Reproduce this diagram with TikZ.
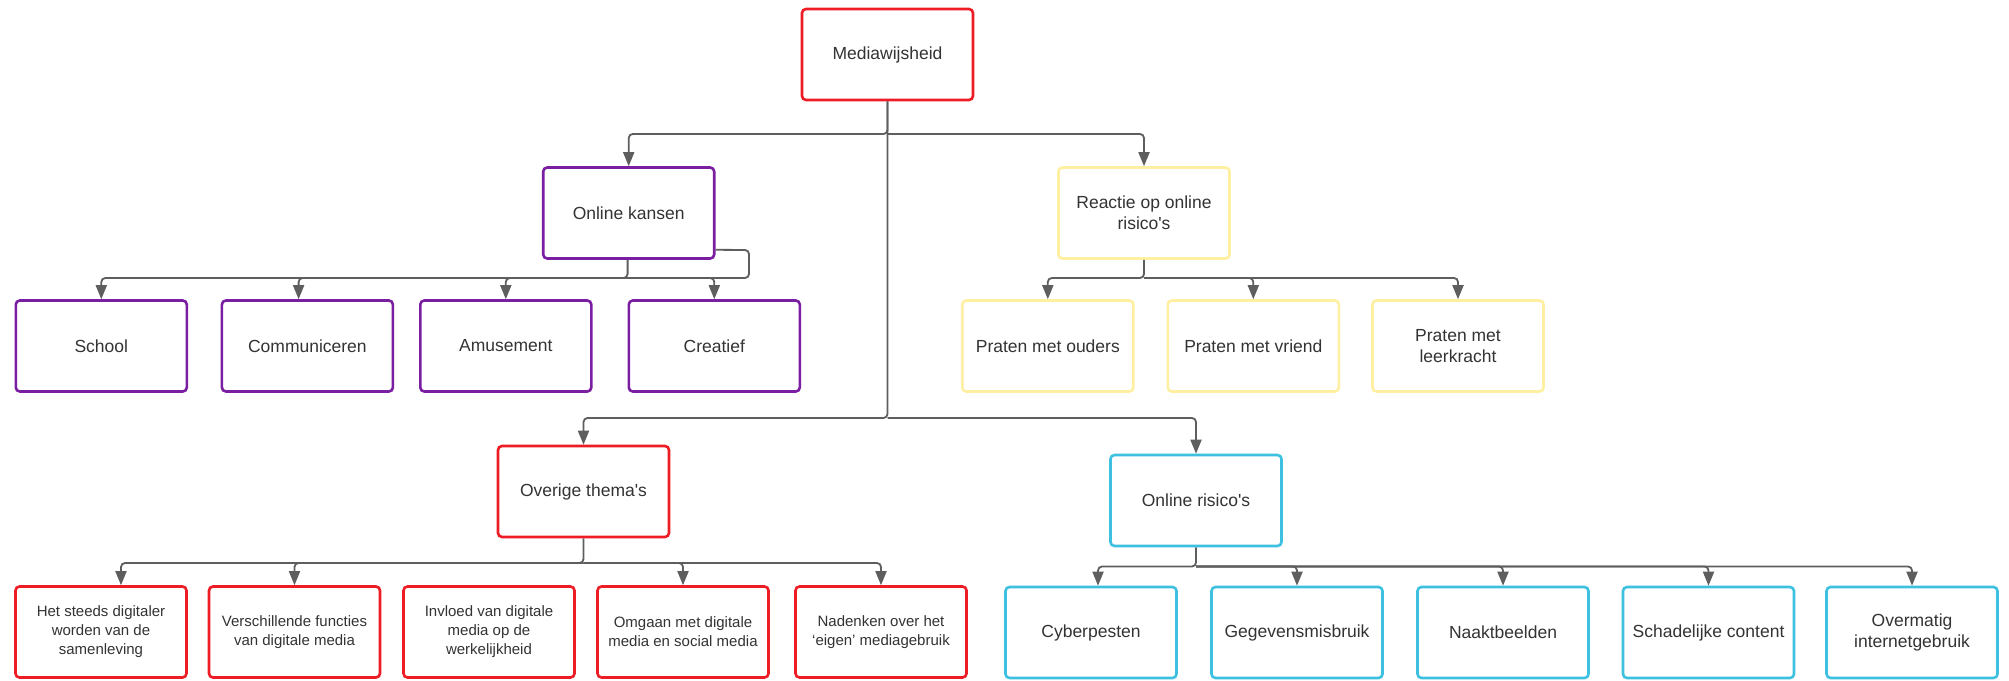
\documentclass[tikz,border=0pt]{standalone}
\usepackage{fontspec}
\setmainfont{Liberation Sans}
\usetikzlibrary{arrows.meta,calc}
\definecolor{cred}{HTML}{EE1C24}
\definecolor{cpurple}{HTML}{7B1FA2}
\definecolor{cyellow}{HTML}{FFEFA0}
\definecolor{ccyan}{HTML}{3EC1E0}
\definecolor{ctext}{HTML}{333333}
\definecolor{cline}{HTML}{5E5E5E}
\newcommand{\apo}{\textquotesingle}
\tikzset{
  box/.style={draw, line width=2.6pt, rounded corners=4pt, minimum width=171pt, minimum height=91pt,
    inner sep=2pt, align=center, text=ctext, font=\fontsize{17.5}{21}\selectfont},
  smallbox/.style={box, font=\fontsize{15}{19}\selectfont},
  redbox/.style={box, draw=cred},
  purplebox/.style={box, draw=cpurple},
  yellowbox/.style={box, draw=cyellow},
  cyanbox/.style={box, draw=ccyan},
  redsmall/.style={smallbox, draw=cred},
  conn/.style={draw=cline, line width=1.8pt, rounded corners=4pt, -{Triangle[length=14pt,width=11pt]}},
  plainline/.style={draw=cline, line width=1.8pt, rounded corners=4pt}
}
\begin{document}
\begin{tikzpicture}[x=1pt,y=-1pt]
\useasboundingbox[fill=white] (0,0) rectangle (2009,680);
% top
\node[redbox] (med) at (887.5,54.5) {Mediawijsheid};
\node[purplebox] (ok) at (628.7,213) {Online kansen};
\node[yellowbox] (re) at (1144,213) {Reactie op online\\risico\apo s};
% online kansen children
\node[purplebox] (school) at (101.3,346) {School};
\node[purplebox] (comm) at (307.4,346) {Communiceren};
\node[purplebox] (amus) at (505.8,346) {Amusement};
\node[purplebox] (crea) at (714.3,346) {Creatief};
% reactie children
\node[yellowbox] (ouders) at (1047.8,346) {Praten met ouders};
\node[yellowbox] (vriend) at (1253.3,346) {Praten met vriend};
\node[yellowbox] (leer) at (1458,346) {Praten met\\leerkracht};
% lower level
\node[redbox] (ov) at (583.5,491.5) {Overige thema\apo s};
\node[cyanbox] (risk) at (1196,500.5) {Online risico\apo s};
% overige children
\node[redsmall] (o1) at (101,632) {Het steeds digitaler\\worden van de\\samenleving};
\node[redsmall] (o2) at (294.5,632) {Verschillende functies\\van digitale media};
\node[redsmall] (o3) at (489,632) {Invloed van digitale\\media op de\\werkelijkheid};
\node[redsmall] (o4) at (683,632) {Omgaan met digitale\\media en social media};
\node[redsmall] (o5) at (881,632) {Nadenken over het\\`eigen' mediagebruik};
% risk children
\node[cyanbox] (r1) at (1091,632.5) {Cyberpesten};
\node[cyanbox] (r2) at (1297,632.5) {Gegevensmisbruik};
\node[cyanbox] (r3) at (1503,632.5) {Naaktbeelden};
\node[cyanbox] (r4) at (1708.5,632.5) {Schadelijke content};
\node[cyanbox] (r5) at (1912,632.5) {Overmatig\\internetgebruik};
% junction coordinates
\coordinate (j1) at (887.5,134);
\coordinate (j2) at (887.5,418);
\coordinate (k) at (627.6,278);
\coordinate (kl) at (749,250);
\coordinate (m) at (1144,278);
\coordinate (n) at (583.5,563);
\coordinate (p) at (1196,566.5);
% top connectors
\draw[conn] (med.south) -- (j1) -| (ok.north);
\draw[conn] (j1) -| (re.north);
\draw[conn] (med.south) -- (j2) -| (ov.north);
\draw[conn] (j2) -| (risk.north);
% online kansen
\draw[conn] (ok.south -| k) -- (k) -| (school.north);
\draw[conn] (k) -| ($(comm.north)+(-8.8,0)$);
\draw[conn] (k) -| (amus.north);
\draw[conn] (k) -| (crea.north);
\draw[plainline] ($(ok.south east)+(0,-10)$) -- (kl) |- (k);
% reactie
\draw[conn] (re.south) -- (m) -| (ouders.north);
\draw[conn] (m) -| (vriend.north);
\draw[conn] (m) -| (leer.north);
% overige
\draw[conn] (ov.south) -- (n) -| ($(o1.north)+(20,0)$);
\draw[conn] (n) -| (o2.north);
\draw[conn] (n) -| (o4.north);
\draw[conn] (n) -| (o5.north);
% risk
\draw[conn] (risk.south) -- (p) -| ($(r1.north)+(7,0)$);
\draw[conn] (p) -| (r2.north);
\draw[conn] (p) -| (r3.north);
\draw[conn] (p) -| (r4.north);
\draw[conn] (p) -| (r5.north);
\end{tikzpicture}
\end{document}
